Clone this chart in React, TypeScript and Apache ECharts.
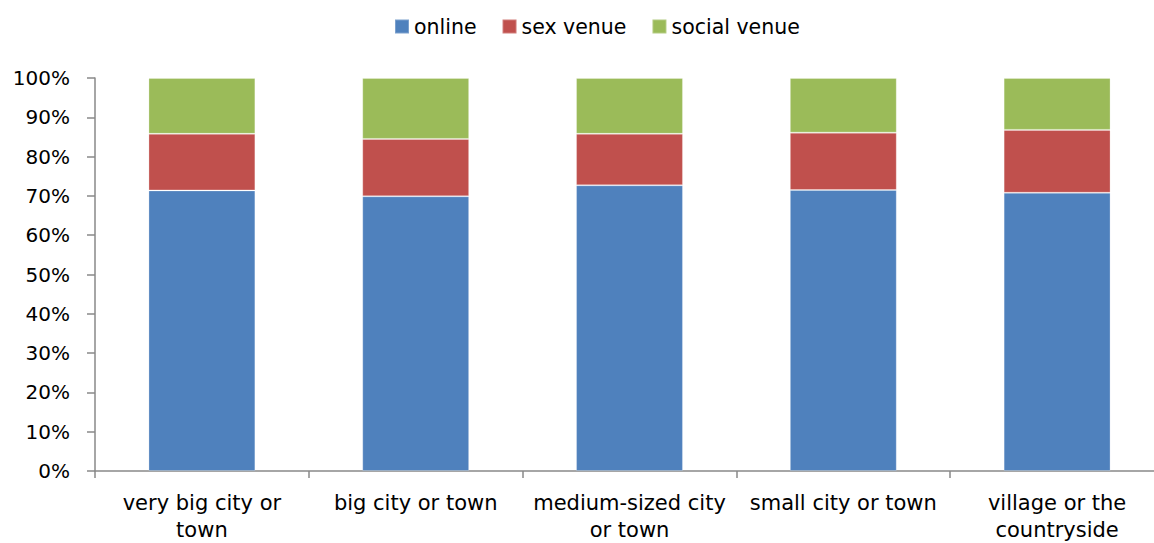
import React, { useEffect, useRef } from "react";
import * as echarts from "echarts";

const categories = [
  "very big city or\ntown",
  "big city or town",
  "medium-sized city\nor town",
  "small city or town",
  "village or the\ncountryside",
];
const onlineValues = [71.4, 69.9, 72.7, 71.5, 70.8];
const sexVenueValues = [14.4, 14.6, 13.1, 14.6, 16.0];
const socialVenueValues = [14.2, 15.5, 14.2, 13.9, 13.2];
const seriesNames = ["online", "sex venue", "social venue"];
const seriesColors = ["#4F81BD", "#C0504D", "#9BBB59"];

export default function App() {
  const ref = useRef<HTMLDivElement>(null);
  useEffect(() => {
    if (!ref.current) return;
    const chart = echarts.init(ref.current, null, { renderer: "svg" });
    const font = "DejaVu Sans";
    const values = [onlineValues, sexVenueValues, socialVenueValues];
    chart.setOption({
      animation: false,
      backgroundColor: "#ffffff",
      textStyle: { fontFamily: font },
      legend: {
        data: seriesNames,
        left: 394,
        top: 16,
        padding: 0,
        itemWidth: 14,
        itemHeight: 14,
        itemGap: 25,
        icon: "rect",
        textStyle: { fontFamily: font, fontSize: 20.5, color: "#000" },
      },
      grid: { left: 95, top: 78, width: 1069, height: 394 },
      xAxis: {
        type: "category",
        data: categories,
        boundaryGap: true,
        axisLine: { lineStyle: { color: "#898989", width: 1.5 } },
        axisTick: { show: true, length: 7, lineStyle: { color: "#898989", width: 1.5 } },
        axisLabel: {
          interval: 0,
          fontFamily: font,
          fontSize: 21,
          lineHeight: 27,
          color: "#000",
          margin: 18,
        },
      },
      yAxis: {
        type: "value",
        min: 0,
        max: 100,
        interval: 10,
        splitLine: { show: false },
        axisLine: { show: true, lineStyle: { color: "#898989", width: 1.5 } },
        axisTick: { show: true, length: 8, lineStyle: { color: "#898989", width: 1.5 } },
        axisLabel: {
          formatter: "{value}%",
          fontFamily: font,
          fontSize: 20,
          color: "#000",
          margin: 25,
        },
      },
      series: seriesNames.map((name, i) => ({
        name,
        type: "bar",
        stack: "total",
        barWidth: "50%",
        data: values[i],
        itemStyle: {
          color: seriesColors[i],
          borderColor: "rgba(255,255,255,0.25)",
          borderWidth: 1,
        },
      })),
    });
    return () => chart.dispose();
  }, []);
  return (
    <div
      style={{
        position: "fixed",
        left: 0,
        top: 0,
        width: 1154,
        height: 543,
        overflow: "hidden",
        background: "#fff",
      }}
    >
      <div ref={ref} style={{ width: 1180, height: 543 }} />
    </div>
  );
}
